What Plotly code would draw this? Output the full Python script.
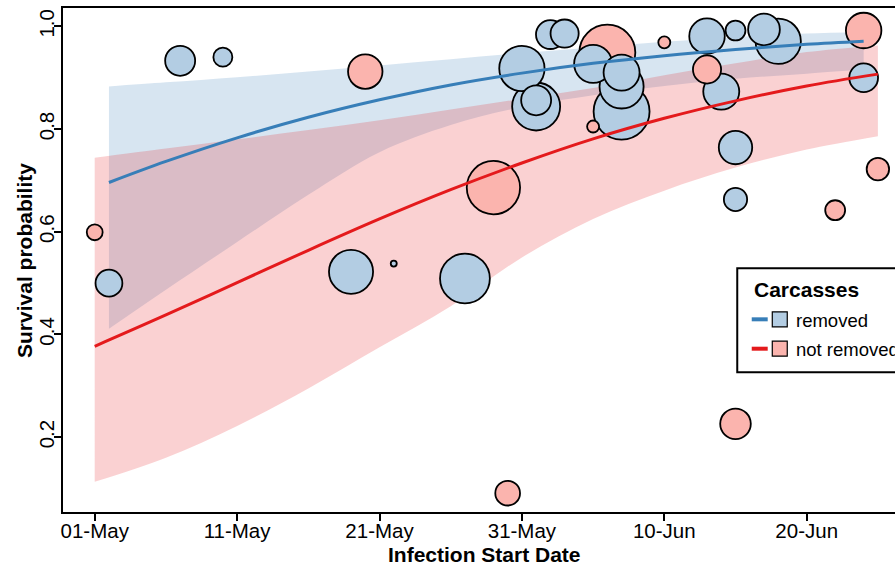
import plotly.graph_objects as go
import pandas as pd

# ---------------- data ----------------
# fitted curve + 95% band, carcasses removed
removed_fit_dates = ["2021-05-02", "2021-05-06", "2021-05-11", "2021-05-16", "2021-05-21", "2021-05-26",
                     "2021-05-31", "2021-06-05", "2021-06-10", "2021-06-15", "2021-06-20", "2021-06-24"]
removed_fit = [0.696, 0.737, 0.783, 0.823, 0.857, 0.886, 0.909, 0.928, 0.943, 0.955, 0.965, 0.971]
removed_upper = [0.883, 0.891, 0.901, 0.912, 0.924, 0.936, 0.948, 0.959, 0.970, 0.979, 0.986, 0.989]
removed_lower = [0.411, 0.487, 0.580, 0.672, 0.755, 0.808, 0.843, 0.866, 0.884, 0.898, 0.908, 0.916]

# fitted curve + 95% band, carcasses not removed
notrem_fit_dates = ["2021-05-01", "2021-05-06", "2021-05-11", "2021-05-16", "2021-05-21", "2021-05-26",
                    "2021-05-31", "2021-06-05", "2021-06-10", "2021-06-15", "2021-06-20", "2021-06-25"]
notrem_fit = [0.377, 0.438, 0.501, 0.564, 0.625, 0.682, 0.734, 0.781, 0.821, 0.855, 0.884, 0.907]
notrem_upper = [0.744, 0.762, 0.780, 0.798, 0.817, 0.838, 0.859, 0.880, 0.905, 0.928, 0.950, 0.963]
notrem_lower = [0.113, 0.160, 0.222, 0.295, 0.375, 0.455, 0.550, 0.625, 0.680, 0.725, 0.760, 0.786]

# observed sites, carcasses removed (date, survival, sample size)
removed_dates = ["2021-05-02", "2021-05-07", "2021-05-10", "2021-05-19", "2021-05-22", "2021-05-27",
                 "2021-05-31", "2021-06-01", "2021-06-01", "2021-06-02", "2021-06-03", "2021-06-05",
                 "2021-06-07", "2021-06-07", "2021-06-07", "2021-06-13", "2021-06-14", "2021-06-15",
                 "2021-06-15", "2021-06-15", "2021-06-17", "2021-06-18", "2021-06-24"]
removed_surv = [0.500, 0.933, 0.940, 0.522, 0.538, 0.509,
                0.918, 0.844, 0.856, 0.984, 0.986, 0.927,
                0.910, 0.883, 0.834, 0.981, 0.873, 0.992,
                0.764, 0.663, 0.994, 0.971, 0.900]
removed_n = [20, 25, 10, 54, 1, 69,
             57, 64, 25, 23, 22, 40,
             36, 54, 87, 35, 36, 11,
             31, 15, 28, 57, 23]

# observed sites, carcasses not removed
notrem_dates = ["2021-05-01", "2021-05-20", "2021-05-29", "2021-05-30", "2021-06-05", "2021-06-06",
                "2021-06-10", "2021-06-13", "2021-06-15", "2021-06-22", "2021-06-24", "2021-06-25"]
notrem_surv = [0.599, 0.912, 0.686, 0.091, 0.805, 0.949, 0.969, 0.916, 0.226, 0.642, 0.992, 0.722]
notrem_n = [7, 33, 79, 17, 4, 87, 4, 22, 26, 11, 35, 14]

tick_dates = ["2021-05-01", "2021-05-11", "2021-05-21", "2021-05-31", "2021-06-10", "2021-06-20"]
y_ticks = [0.2, 0.4, 0.6, 0.8, 1.0]
group_labels = ["removed", "not removed"]

# ---------------- styling ----------------
BLUE_LINE = "#377EB8"
RED_LINE = "#E41A1C"
BLUE_FILL = "#B3CDE3"
RED_FILL = "#FBB4AE"
FONT = "Liberation Sans, Arial, Helvetica, sans-serif"

fig = go.Figure()

# confidence bands (blue first, red on top)
fig.add_trace(go.Scatter(x=removed_fit_dates, y=removed_lower, mode="lines",
                         line=dict(width=0, shape="spline"), hoverinfo="skip"))
fig.add_trace(go.Scatter(x=removed_fit_dates, y=removed_upper, mode="lines", fill="tonexty",
                         fillcolor="rgba(55,126,184,0.2)", line=dict(width=0, shape="spline"),
                         hoverinfo="skip"))
fig.add_trace(go.Scatter(x=notrem_fit_dates, y=notrem_lower, mode="lines",
                         line=dict(width=0, shape="spline"), hoverinfo="skip"))
fig.add_trace(go.Scatter(x=notrem_fit_dates, y=notrem_upper, mode="lines", fill="tonexty",
                         fillcolor="rgba(228,26,28,0.2)", line=dict(width=0, shape="spline"),
                         hoverinfo="skip"))

# bubbles, both groups in one layer, largest drawn first
pts = pd.concat([
    pd.DataFrame({"date": removed_dates, "surv": removed_surv, "n": removed_n, "grp": group_labels[0]}),
    pd.DataFrame({"date": notrem_dates, "surv": notrem_surv, "n": notrem_n, "grp": group_labels[1]}),
], ignore_index=True).sort_values("n", ascending=False, kind="stable")
colors = [BLUE_FILL if g == group_labels[0] else RED_FILL for g in pts["grp"]]
fig.add_trace(go.Scatter(
    x=pts["date"], y=pts["surv"], mode="markers",
    marker=dict(size=pts["n"], sizemode="area", sizeref=1 / 18, color=colors,
                line=dict(color="black", width=1.8), opacity=1),
    hovertext=pts["grp"]))

# fitted lines on top
fig.add_trace(go.Scatter(x=removed_fit_dates, y=removed_fit, mode="lines",
                         line=dict(color=BLUE_LINE, width=3, shape="spline")))
fig.add_trace(go.Scatter(x=notrem_fit_dates, y=notrem_fit, mode="lines",
                         line=dict(color=RED_LINE, width=3, shape="spline")))

fig.update_layout(
    width=895, height=568,
    margin=dict(l=63, r=0, t=8, b=56),
    plot_bgcolor="white", paper_bgcolor="white",
    showlegend=False,
    font=dict(family=FONT, color="black"),
)
fig.update_xaxes(
    type="date", range=["2021-04-28 18:33", "2021-06-26 04:50"],
    tickvals=tick_dates, tickformat="%d-%b",
    ticks="outside", ticklen=7, tickwidth=1.6, tickcolor="black",
    showline=True, linecolor="black", linewidth=2, mirror=True,
    showgrid=False, zeroline=False, tickfont=dict(size=20.5, family=FONT),
    ticklabelstandoff=-8,
)
fig.update_yaxes(
    range=[0.0543, 1.0358], tickvals=y_ticks, ticktext=["0.2", "0.4", "0.6", "0.8", "1.0"],
    tickangle=-90,
    ticks="outside", ticklen=7, tickwidth=1.6, tickcolor="black",
    showline=True, linecolor="black", linewidth=2, mirror=False,
    showgrid=False, zeroline=False, tickfont=dict(size=20.5, family=FONT),
    ticklabelstandoff=-8,
)

# axis titles
fig.add_annotation(text="<b>Infection Start Date</b>", xref="paper", yref="paper",
                   x=0.5072, y=-0.0853, xanchor="center", yanchor="middle", showarrow=False,
                   font=dict(size=21, family=FONT))
fig.add_annotation(text="<b>Survival probability</b>", xref="paper", yref="paper",
                   x=-0.0469, y=0.5, xanchor="center", yanchor="middle", showarrow=False,
                   textangle=-90, font=dict(size=21, family=FONT))

# manual legend
fig.add_shape(type="rect", xref="paper", yref="paper", x0=0.8104, x1=1.06, y0=0.2772, y1=0.4835,
              line=dict(color="black", width=2), fillcolor="white", layer="above")
fig.add_annotation(text="<b>Carcasses</b>", xref="paper", yref="paper", x=0.8278, y=0.4405,
                   xanchor="left", yanchor="middle", showarrow=False, font=dict(size=21, family=FONT))
rows = [(group_labels[0], BLUE_LINE, BLUE_FILL, 0.3823), (group_labels[1], RED_LINE, RED_FILL, 0.3240)]
for label, lc, fc, yy in rows:
    fig.add_shape(type="line", xref="paper", yref="paper", x0=0.8278, x1=0.8470, y0=yy, y1=yy,
                  line=dict(color=lc, width=4), layer="above")
    fig.add_shape(type="rect", xref="paper", yref="paper", x0=0.8525, x1=0.8705,
                  y0=yy - 0.0149, y1=yy + 0.0149, line=dict(color="black", width=1.2),
                  fillcolor=fc, layer="above")
    fig.add_annotation(text=label, xref="paper", yref="paper", x=0.8786, y=yy - 0.002,
                       xanchor="left", yanchor="middle", showarrow=False,
                       font=dict(size=18.5, family=FONT))

# remove the default page margin so the figure fills the window exactly
fig.write_html("out.html",
               config={"displayModeBar": False},
               post_script="document.body.style.margin='0';document.body.style.overflow='hidden';")
